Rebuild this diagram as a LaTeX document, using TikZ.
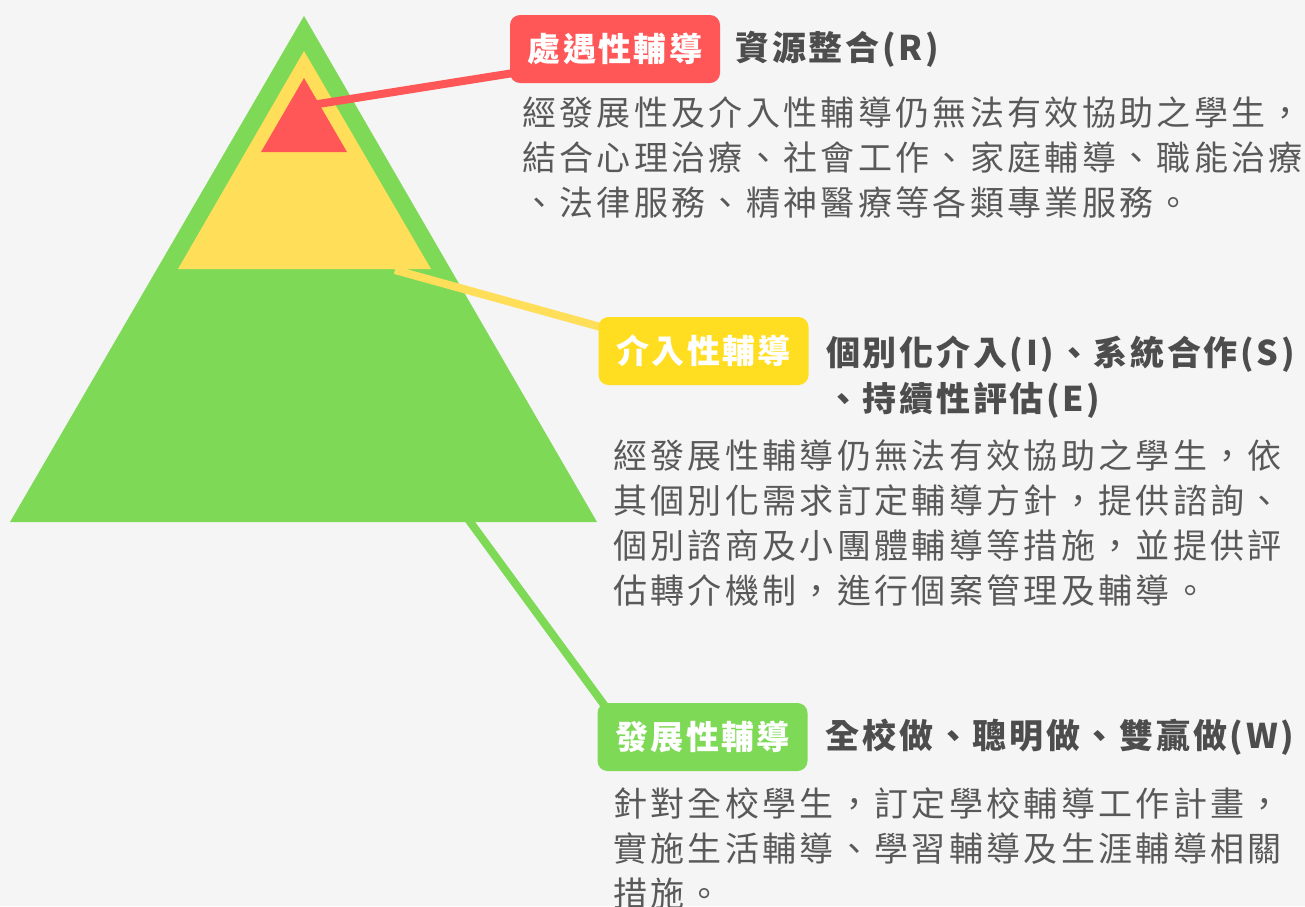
\documentclass[tikz,border=0pt]{standalone}
\usepackage{fontspec}
\newfontfamily\cjk{Noto Sans CJK TC}
\usetikzlibrary{positioning, calc, backgrounds}
\definecolor{PageGray}{HTML}{F5F5F5}
\definecolor{CareRed}{HTML}{FF5757}
\definecolor{MidYellow}{HTML}{FFDE59}
\definecolor{TagYellow}{HTML}{FFDE21}
\definecolor{BaseGreen}{HTML}{7ED957}
\definecolor{TextGray}{HTML}{595959}
\definecolor{HeadGray}{HTML}{4D4D4D}

\begin{document}
\begin{tikzpicture}[x=1pt, y=-1pt, node distance=15pt,
    tag/.style={rounded corners=10pt, minimum width=210pt, minimum height=68pt, inner sep=0pt, text=white,
      font=\cjk\bfseries\fontsize{33}{33}\selectfont\addfontfeature{LetterSpace=7}},
    head/.style={inner sep=0pt, text=HeadGray, align=left,
      font=\cjk\bfseries\fontsize{34}{46}\selectfont\addfontfeature{LetterSpace=8}},
    desc/.style={inner sep=0pt, text=TextGray, align=left, anchor=north west,
      font=\cjk\fontsize{34}{45}\selectfont\addfontfeature{LetterSpace=9.8}},
    link/.style={line width=8pt}]
    \useasboundingbox (0,0) rectangle (1305,906);
    % levels of the pyramid
    \coordinate (gtop) at (304,16);
    \coordinate (gleft) at (10,522);
    \coordinate (gright) at (597,522);
    \coordinate (ytop) at (304,51);
    \coordinate (yleft) at (178,269);
    \coordinate (yright) at (431,269);
    \coordinate (rtop) at (304,78);
    \coordinate (rleft) at (261,152);
    \coordinate (rright) at (347,152);
    \coordinate (rfoot) at (312,105);
    \coordinate (yfoot) at (395,270);
    \coordinate (gfoot) at (397,422);

    % tags and texts
    \node[tag, fill=CareRed] (rtag) at (615,49) {處遇性輔導};
    \node[head, right=15pt of rtag] (rhead) {資源整合(R)};
    \node[desc] (rdesc) at (522,96) {經發展性及介入性輔導仍無法有效協助之學生，\\
      結合心理治療、社會工作、家庭輔導、職能治療\\
      、法律服務、精神醫療等各類專業服務。};

    \node[tag, fill=TagYellow] (ytag) at (703.5,351) {介入性輔導};
    \node[head, anchor=north west] (yhead) at (826,336) {個別化介入(I)、系統合作(S)\\
      、持續性評估(E)};
    \node[desc] (ydesc) at (613,439) {經發展性輔導仍無法有效協助之學生，依\\
      其個別化需求訂定輔導方針，提供諮詢、\\
      個別諮商及小團體輔導等措施，並提供評\\
      估轉介機制，進行個案管理及輔導。};

    \node[tag, fill=BaseGreen] (gtag) at (702.5,737) {發展性輔導};
    \node[head, right=18pt of gtag] (ghead) {全校做、聰明做、雙贏做(W)};
    \node[desc] (gdesc) at (613,787) {針對全校學生，訂定學校輔導工作計畫，\\
      實施生活輔導、學習輔導及生涯輔導相關\\
      措施。};

    \begin{scope}[on background layer]
        \fill[PageGray] (0,0) rectangle (1305,906);
        \fill[BaseGreen] (gtop) -- (gleft) -- (gright) -- cycle;
        \fill[MidYellow] (ytop) -- (yleft) -- (yright) -- cycle;
        \fill[CareRed] (rtop) -- (rleft) -- (rright) -- cycle;
        \draw[link, BaseGreen] (gfoot) -- ($(gtag.north west)+(17,16)$);
        \draw[link, MidYellow] (yfoot) -- ($(ytag.north west)+(16,14)$);
        \draw[link, CareRed] (rfoot) -- ($(rtag.south west)+(15,-12)$);
    \end{scope}
\end{tikzpicture}
\end{document}
